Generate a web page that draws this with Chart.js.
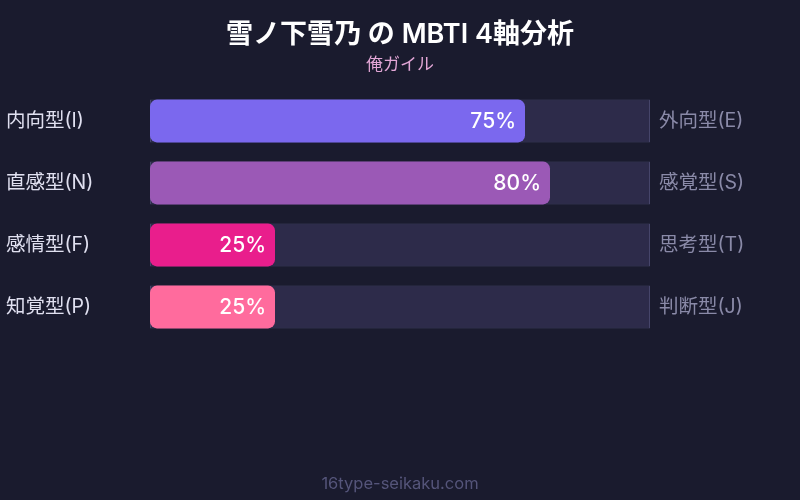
<!DOCTYPE html>
<html>
<head>
<meta charset="utf-8">
<script src="https://cdn.jsdelivr.net/npm/chart.js@4/dist/chart.umd.min.js"></script>
<style>
html,body{margin:0;padding:0;background:#1a1b2e;}
#wrap{width:800px;height:500px;position:relative;}
</style>
</head>
<body>
<div id="wrap"><canvas id="c" width="800" height="500"></canvas></div>
<script>
const titleText = "雪ノ下雪乃 の MBTI 4軸分析";
const subtitleText = "俺ガイル";
const footerText = "16type-seikaku.com";
const leftLabels = ["内向型(I)", "直感型(N)", "感情型(F)", "知覚型(P)"];
const rightLabels = ["外向型(E)", "感覚型(S)", "思考型(T)", "判断型(J)"];
const values = [75, 80, 25, 25];
const trackValues = [100, 100, 100, 100];
const barColors = ["#7b68ee", "#9b59b6", "#e91e8c", "#ff6b9d"];

const FONT = "Inter, 'Noto Sans CJK JP', sans-serif";

const textPlugin = {
  id: "textPlugin",
  afterDraw(chart) {
    const ctx = chart.ctx;
    ctx.save();
    ctx.textAlign = "center";
    ctx.textBaseline = "middle";
    ctx.fillStyle = "#ffffff";
    ctx.font = "600 27px " + FONT;
    ctx.fillText(titleText, 400, 35);
    ctx.fillStyle = "#e2a6d6";
    ctx.font = "17px " + FONT;
    ctx.fillText(subtitleText, 400, 65);
    ctx.fillStyle = "#55557a";
    ctx.font = "16.5px " + FONT;
    ctx.fillText(footerText, 400, 484);
    // value labels
    const meta = chart.getDatasetMeta(1);
    ctx.textAlign = "right";
    ctx.fillStyle = "#ffffff";
    ctx.font = "500 21px " + FONT;
    meta.data.forEach((bar, i) => {
      ctx.fillText(values[i] + "%", bar.x - 9, bar.y + 1);
    });
    ctx.restore();
  }
};

new Chart(document.getElementById("c"), {
  type: "bar",
  data: {
    labels: leftLabels,
    datasets: [
      {
        data: trackValues,
        backgroundColor: "#2d2b4a",
        borderColor: "#46456a",
        borderWidth: 1,
        borderSkipped: false,
        borderRadius: 0,
        grouped: false,
        order: 2,
        barPercentage: 0.69,
        categoryPercentage: 1
      },
      {
        data: values,
        backgroundColor: barColors,
        borderWidth: 0,
        borderSkipped: false,
        borderRadius: 7,
        grouped: false,
        order: 1,
        barPercentage: 0.69,
        categoryPercentage: 1
      }
    ]
  },
  options: {
    indexAxis: "y",
    responsive: false,
    animation: false,
    devicePixelRatio: 1,
    layout: { padding: { top: 90, bottom: 162, left: 6, right: 0 } },
    plugins: {
      legend: { display: false },
      tooltip: { enabled: false },
      title: { display: false }
    },
    scales: {
      x: {
        min: 0, max: 100,
        display: false
      },
      y: {
        position: "left",
        grid: { display: false, drawTicks: false },
        border: { display: false },
        ticks: {
          crossAlign: "far",
          color: "#e0e0f0",
          font: { size: 19.5, family: FONT },
          padding: 0
        },
        afterFit(scale) { scale.width = 144; }
      },
      y2: {
        type: "category",
        position: "right",
        labels: rightLabels,
        offset: true,
        grid: { display: false, drawTicks: false },
        border: { display: false },
        ticks: {
          crossAlign: "near",
          color: "#8a8aa8",
          font: { size: 19.5, family: FONT },
          padding: 9
        },
        afterFit(scale) { scale.width = 150; }
      }
    }
  },
  plugins: [textPlugin]
});
</script>
</body>
</html>
